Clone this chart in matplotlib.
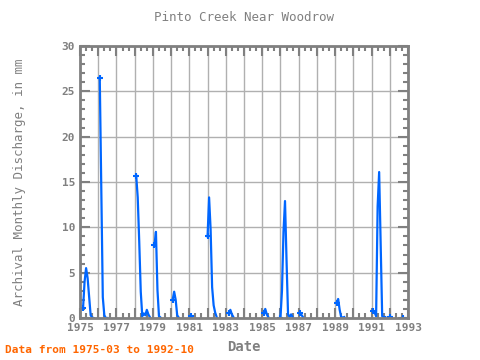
import numpy as np
import pandas as pd
import matplotlib
matplotlib.use("Agg")
import matplotlib.pyplot as plt
from matplotlib.ticker import MultipleLocator

# monthly discharge (mm), months not listed are missing
months = ["1975-03", "1975-04", "1975-05", "1975-06", "1975-07", "1975-08", "1975-09", "1975-10",
          "1976-02", "1976-03", "1976-04", "1976-05", "1976-06", "1976-07",
          "1978-02", "1978-03", "1978-04", "1978-05", "1978-06", "1978-07", "1978-08", "1978-09",
          "1978-10", "1978-11",
          "1979-02", "1979-03", "1979-04", "1979-05", "1979-06",
          "1980-02", "1980-03", "1980-04", "1980-05", "1980-06",
          "1981-02", "1981-03",
          "1982-01", "1982-02", "1982-03", "1982-04", "1982-05", "1982-06", "1982-07",
          "1983-03", "1983-04", "1983-05", "1983-06",
          "1985-02", "1985-03", "1985-04", "1985-05",
          "1986-01", "1986-02", "1986-03", "1986-04", "1986-05", "1986-06", "1986-07", "1986-08",
          "1986-09",
          "1987-02", "1987-03", "1987-04",
          "1989-02", "1989-03", "1989-04", "1989-05", "1989-06", "1989-07",
          "1991-02", "1991-03", "1991-04", "1991-05", "1991-06", "1991-07", "1991-08", "1991-09",
          "1991-10",
          "1992-01", "1992-02", "1992-10"]
discharge = [1.1, 4.0, 5.5, 4.4, 2.3, 0.3, 0.05, 0.0,
             26.5, 14.8, 2.3, 0.3, 0.0, 0.0,
             15.7, 13.3, 8.4, 2.9, 0.2, 0.5, 0.3, 0.9,
             0.4, 0.1,
             8.0, 9.5, 3.1, 0.2, 0.05,
             2.0, 2.9, 2.0, 0.3, 0.05,
             0.2, 0.1,
             9.0, 13.3, 9.8, 3.4, 1.4, 0.6, 0.1,
             0.5, 0.9, 0.4, 0.1,
             0.6, 1.0, 0.4, 0.1,
             0.0, 3.0, 9.5, 12.9, 6.4, 0.4, 0.1, 0.4,
             0.1,
             0.5, 0.3, 0.05,
             1.7, 2.1, 0.9, 0.1, 0.05, 0.1,
             0.8, 0.6, 0.2, 12.3, 16.1, 8.0, 0.2, 0.1,
             0.1,
             0.1, 0.1, 0.0]

s = pd.Series(discharge, index=pd.PeriodIndex(months, freq="M"))
full = pd.period_range("1975-03", "1992-10", freq="M")
s = s.reindex(full)
x = np.array([p.year + (p.month - 1) / 12 for p in full])
y = s.values

# markers at the start of each run of data
prev = np.concatenate([[np.nan], y[:-1]])
starts = ~np.isnan(y) & np.isnan(prev)

gray = "#808080"
blue = "#0066ff"
mono = "DejaVu Sans Mono"

fig = plt.figure(figsize=(4.8, 3.6), dpi=100)
ax = fig.add_axes([0.1667, 0.1167, 0.6833, 0.7555])

ax.plot(x, y, color=blue, lw=1.6)
ax.plot(x[starts], y[starts], "+", color=blue, ms=4, mew=1.5)

ax.set_xlim(1975, 1993)
ax.set_ylim(0, 30)
ax.xaxis.set_minor_locator(MultipleLocator(1 / 3))
ax.yaxis.set_major_locator(MultipleLocator(5))
ax.yaxis.set_minor_locator(MultipleLocator(1))
ax.set_xticks(np.arange(1975, 1994, 1))
ax.set_xticklabels([str(v) if (v - 1975) % 2 == 0 else "" for v in range(1975, 1994)])

ax.grid(True, which="major", color="#b0b0b0", lw=1)
ax.set_axisbelow(True)
for sp in ax.spines.values():
    sp.set_color(gray)
    sp.set_linewidth(2)
ax.tick_params(which="both", direction="in", top=True, right=True, color=gray,
               labelcolor=gray, labelsize=8, width=1.5)
ax.tick_params(which="major", length=7)
ax.tick_params(which="minor", length=3.5)
for lab in ax.get_xticklabels() + ax.get_yticklabels():
    lab.set_family(mono)
    lab.set_fontweight("bold")

ax.set_title("Pinto Creek Near Woodrow", family=mono, color=gray, fontsize=9, pad=18)
ax.set_xlabel("Date", family=mono, color=gray, fontsize=10, fontweight="bold", labelpad=5)
ax.set_ylabel("Archival Monthly Discharge, in mm", family=mono, color=gray, fontsize=9,
              labelpad=26)
fig.text(0.01, 0.02, "Data from 1975-03 to 1992-10", family=mono, color="#ff6600",
         fontsize=8, fontweight="bold")

fig.savefig("out.png", dpi=100)
